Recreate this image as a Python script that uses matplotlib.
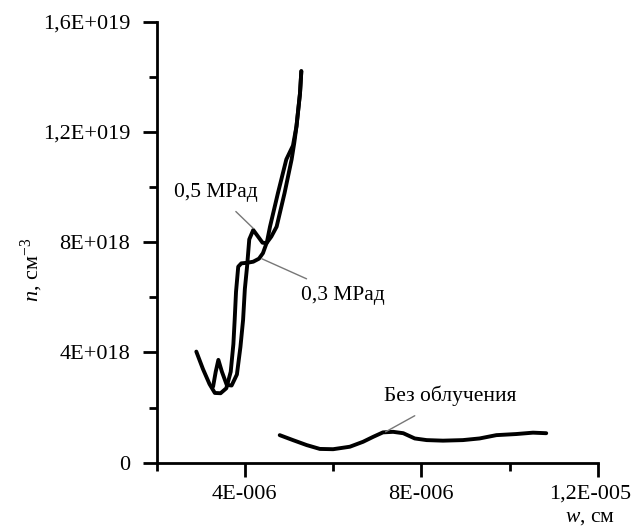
import numpy as np
import matplotlib
matplotlib.use("Agg")
import matplotlib.pyplot as plt
from matplotlib.ticker import FixedLocator
from matplotlib.transforms import ScaledTranslation

plt.rcParams['font.family'] = ['Liberation Serif', 'DejaVu Serif']
plt.rcParams['mathtext.fontset'] = 'custom'
plt.rcParams['mathtext.rm'] = 'Liberation Serif'
plt.rcParams['mathtext.it'] = 'Liberation Serif:italic'

# 0,3 MRad curve (w in cm, n in cm^-3)
w_03 = [2.90e-6, 3.05e-6, 3.20e-6, 3.32e-6, 3.45e-6, 3.58e-6, 3.68e-6, 3.74e-6,
        3.77e-6, 3.80e-6, 3.85e-6, 3.92e-6, 4.05e-6, 4.19e-6, 4.32e-6, 4.41e-6,
        4.50e-6, 4.57e-6, 4.75e-6, 4.94e-6, 5.09e-6, 5.17e-6, 5.25e-6, 5.28e-6]
n_03 = [4.03e18, 3.40e18, 2.85e18, 2.53e18, 2.52e18, 2.70e18, 3.30e18, 4.30e18,
        5.20e18, 6.20e18, 7.11e18, 7.23e18, 7.25e18, 7.29e18, 7.40e18, 7.60e18,
        8.00e18, 8.56e18, 9.78e18, 1.10e19, 1.15e19, 1.22e19, 1.34e19, 1.42e19]

# 0,5 MRad curve
w_05 = [3.28e-6, 3.34e-6, 3.40e-6, 3.48e-6, 3.59e-6, 3.70e-6, 3.82e-6, 3.90e-6,
        3.96e-6, 4.00e-6, 4.05e-6, 4.10e-6, 4.19e-6, 4.30e-6, 4.40e-6, 4.49e-6,
        4.60e-6, 4.72e-6, 4.90e-6, 5.06e-6, 5.12e-6, 5.17e-6, 5.25e-6, 5.28e-6]
n_05 = [2.76e18, 3.30e18, 3.73e18, 3.30e18, 2.82e18, 2.80e18, 3.20e18, 4.20e18,
        5.18e18, 6.30e18, 7.11e18, 8.10e18, 8.44e18, 8.20e18, 7.98e18, 7.96e18,
        8.20e18, 8.56e18, 9.78e18, 1.10e19, 1.16e19, 1.22e19, 1.34e19, 1.42e19]

# unirradiated curve
w_0 = [4.79e-6, 5.09e-6, 5.40e-6, 5.70e-6, 6.00e-6, 6.38e-6, 6.68e-6, 6.91e-6,
       7.13e-6, 7.36e-6, 7.59e-6, 7.85e-6, 8.12e-6, 8.49e-6, 8.94e-6, 9.32e-6,
       9.70e-6, 1.015e-5, 1.053e-5, 1.083e-5]
n_0 = [1.00e18, 0.82e18, 0.64e18, 0.50e18, 0.49e18, 0.58e18, 0.76e18, 0.94e18,
       1.10e18, 1.12e18, 1.07e18, 0.88e18, 0.82e18, 0.80e18, 0.82e18, 0.88e18,
       1.00e18, 1.04e18, 1.09e18, 1.07e18]

x_major = [4e-6, 8e-6, 1.2e-5]
x_major_labels = ['4E-006', '8E-006', '1,2E-005']
x_minor = [2e-6, 6e-6, 1e-5]
y_major = [0, 4e18, 8e18, 1.2e19, 1.6e19]
y_major_labels = ['0', '4E+018', '8E+018', '1,2E+019', '1,6E+019']
y_minor = [2e18, 6e18, 1e19, 1.4e19]

fig = plt.figure(figsize=(6.34, 5.29), dpi=100)
ax = fig.add_axes([0.247, 0.1253, 0.696, 0.834])

for w, n in [(w_03, n_03), (w_05, n_05), (w_0, n_0)]:
    ax.plot(w, n, color='black', lw=2.8, solid_joinstyle='round',
            solid_capstyle='round')

ax.set_xlim(2e-6, 1.2e-5)
ax.set_ylim(0, 1.6e19)
for s in ['top', 'right']:
    ax.spines[s].set_visible(False)
for s in ['left', 'bottom']:
    ax.spines[s].set_linewidth(2.0)

ax.xaxis.set_major_locator(FixedLocator(x_major))
ax.set_xticklabels(x_major_labels)
ax.xaxis.set_minor_locator(FixedLocator(x_minor))
ax.yaxis.set_major_locator(FixedLocator(y_major))
ax.set_yticklabels(y_major_labels)
ax.yaxis.set_minor_locator(FixedLocator(y_minor))
ax.tick_params(which='major', length=10, width=2, labelsize=16, direction='out')
ax.tick_params(axis='x', which='major', pad=6)
ax.tick_params(axis='y', which='major', pad=9)
ax.tick_params(which='minor', length=6, width=2, direction='out')

# keep the last x label inside the canvas
last = ax.get_xticklabels()[-1]
last.set_transform(last.get_transform() +
                   ScaledTranslation(-0.08, 0, fig.dpi_scale_trans))

# curve labels with thin leader lines
ax.annotate('0,5 МРад', xy=(4.19e-6, 8.5e18), xytext=(3.35e-6, 9.8e18),
            fontsize=15.5, ha='center', va='center',
            arrowprops=dict(arrowstyle='-', color='#777777', lw=1,
                            shrinkA=7, shrinkB=0))
ax.annotate('0,3 МРад', xy=(4.38e-6, 7.4e18), xytext=(6.22e-6, 6.08e18),
            fontsize=15.5, ha='center', va='center',
            arrowprops=dict(arrowstyle='-', color='#777777', lw=1,
                            shrinkA=7, shrinkB=0))
ax.annotate('Без облучения', xy=(7.19e-6, 1.12e18), xytext=(8.66e-6, 2.42e18),
            fontsize=15.5, ha='center', va='center',
            arrowprops=dict(arrowstyle='-', color='#777777', lw=1,
                            shrinkA=10, shrinkB=0))

fig.text(0.05, 0.49, '$n$, см$^{-3}$', rotation=90, fontsize=16,
         ha='center', va='center')
fig.text(0.97, 0.004, '$w$, см', fontsize=15.5, ha='right', va='bottom')

fig.savefig('out.png', dpi=100, facecolor='white')
